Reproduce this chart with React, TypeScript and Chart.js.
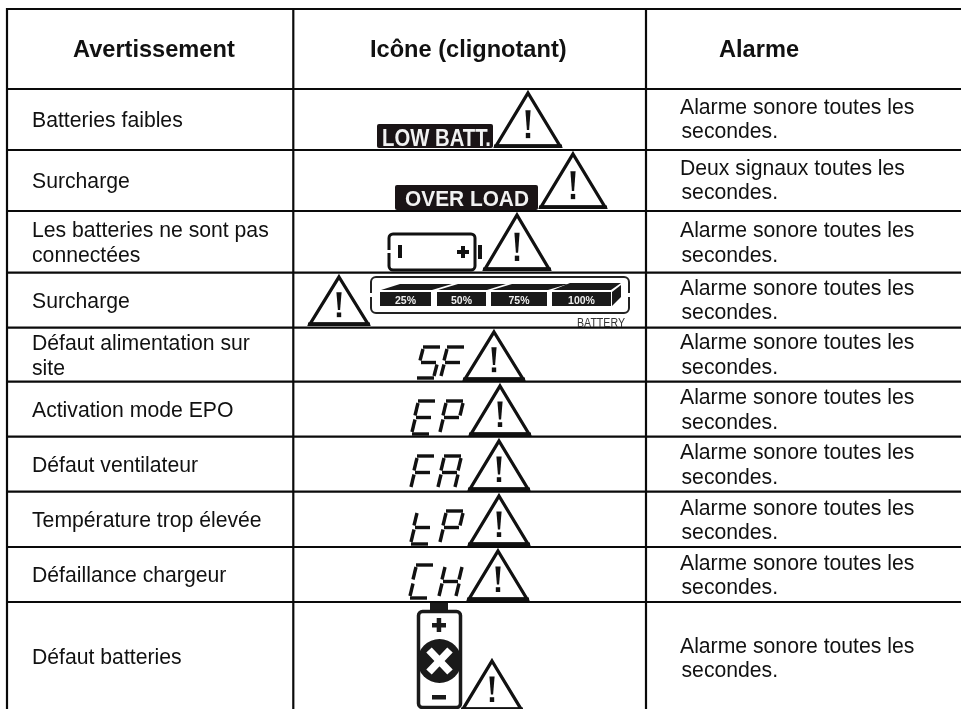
import React, { useEffect, useRef } from "react";
import { Chart, registerables } from "chart.js";

Chart.register(...registerables);

const WIDTH = 961;
const HEIGHT = 709;

const columnEdges = [7, 293.3, 646];
const rowEdges = [9, 89, 150, 211, 272.7, 327.7, 381.7, 436.7, 491.7, 547, 602];

const headers = ["Avertissement", "Icône (clignotant)", "Alarme"];
const headerX = [73, 370, 719];
const headerBaseline = 57;

const warnings = [
  ["Batteries faibles"],
  ["Surcharge"],
  ["Les batteries ne sont pas", "connectées"],
  ["Surcharge"],
  ["Défaut alimentation sur", "site"],
  ["Activation mode EPO"],
  ["Défaut ventilateur"],
  ["Température trop élevée"],
  ["Défaillance chargeur"],
  ["Défaut batteries"],
];
const warningBaselines = [[127], [188], [237, 262], [308], [350, 375], [417], [472], [527], [582], [664]];

const alarmSonore = ["Alarme sonore toutes les", "secondes."];
const deuxSignaux = ["Deux signaux toutes les", "secondes."];
const alarms = [alarmSonore, deuxSignaux, alarmSonore, alarmSonore, alarmSonore, alarmSonore, alarmSonore, alarmSonore, alarmSonore, alarmSonore];
const alarmBaselines = [[114, 138], [175, 199], [237, 262], [295, 319], [349, 374], [404, 429], [459, 484], [515, 539], [570, 594], [653, 677]];

// warning triangles: apex x, apex y, base y, half width
const triangleCx = [528, 573, 517, 339, 494, 500, 499, 499, 498, 492];
const triangleTop = [90, 151, 212, 274, 329, 383, 438, 493, 548, 658];
const triangleBase = [148, 209, 271, 326, 381, 436, 491, 546, 601, 711];
const triangleHalf = [34, 34, 34, 31, 31, 31, 31, 31, 31, 31];

// LCD codes
const lcdCodes = [["S", "F"], ["E", "P"], ["F", "A"], ["t", "P"], ["C", "H"]];
const lcdX = [[417, 441], [412, 440], [411, 438], [411, 440], [410, 439]];
const lcdTop = [347, 401, 456, 511, 565];
const lcdHeight = [31, 33, 33, 33, 33];

const segmentsByLetter: Record<string, string> = { S: "afgcd", F: "afeg", E: "afegd", P: "abfeg", A: "abcefg", t: "fegd", C: "afed", H: "bcefg" };

const meterLabels = ["25%", "50%", "75%", "100%"];
const meterLeft = [380, 437, 491, 552];
const meterRight = [431, 486, 547, 611];

type Px = (v: number) => number;

function triangle(c: CanvasRenderingContext2D, X: Px, Y: Px, cx: number, top: number, base: number, half: number) {
  const h = base - top;
  c.strokeStyle = "#111";
  c.lineWidth = 3.3;
  c.lineJoin = "miter";
  c.beginPath();
  c.moveTo(X(cx), Y(top + 3));
  c.lineTo(X(cx + half - 2), Y(base - 2));
  c.lineTo(X(cx - half + 2), Y(base - 2));
  c.closePath();
  c.stroke();
  c.fillStyle = "#111";
  c.fillRect(X(cx - half), Y(base - 3.5), half * 2, 3.5);
  c.beginPath();
  c.moveTo(X(cx - 2.6), Y(top + 0.35 * h));
  c.lineTo(X(cx + 2.6), Y(top + 0.35 * h));
  c.lineTo(X(cx + 1.1), Y(top + 0.69 * h));
  c.lineTo(X(cx - 1.1), Y(top + 0.69 * h));
  c.closePath();
  c.fill();
  c.fillRect(X(cx - 2.2), Y(top + 0.74 * h), 4.4, 0.09 * h);
}

function lcdLetter(c: CanvasRenderingContext2D, X: Px, Y: Px, letter: string, x: number, top: number, h: number) {
  const w = 17;
  const slant = 6;
  const g = 2;
  const yMid = top + h / 2;
  const bottom = top + h;
  const seg: Record<string, number[]> = {
    a: [x + slant, top, x + slant + w, top],
    b: [x + slant + w, top + g, x + slant / 2 + w, yMid - g],
    c: [x + slant / 2 + w, yMid + g, x + w, bottom - g],
    d: [x, bottom, x + w, bottom],
    e: [x + slant / 2, yMid + g, x, bottom - g],
    f: [x + slant, top + g, x + slant / 2, yMid - g],
    g: [x + slant / 2 + 1, yMid, x + slant / 2 + w - 1, yMid],
  };
  c.strokeStyle = "#111";
  c.lineWidth = 3.4;
  c.lineCap = "butt";
  for (const s of segmentsByLetter[letter]) {
    const p = seg[s];
    c.beginPath();
    c.moveTo(X(p[0]), Y(p[1]));
    c.lineTo(X(p[2]), Y(p[3]));
    c.stroke();
  }
}

function blackLabel(c: CanvasRenderingContext2D, X: Px, Y: Px, text: string, l: number, t: number, r: number, b: number, tx: number, ty: number, tw: number, size: number) {
  c.fillStyle = "#1a1416";
  c.beginPath();
  c.roundRect(X(l), Y(t), r - l, b - t, 2);
  c.fill();
  c.fillStyle = "#f2f2f2";
  c.font = `bold ${size}px "Liberation Sans Narrow", "Liberation Sans", sans-serif`;
  c.textAlign = "left";
  c.textBaseline = "alphabetic";
  c.fillText(text, X(tx), Y(ty), tw);
}

function poly(c: CanvasRenderingContext2D, X: Px, Y: Px, pts: number[]) {
  c.beginPath();
  for (let i = 0; i < pts.length; i += 2) {
    if (i === 0) c.moveTo(X(pts[i]), Y(pts[i + 1]));
    else c.lineTo(X(pts[i]), Y(pts[i + 1]));
  }
  c.closePath();
  c.fill();
}

function drawEmptyBattery(c: CanvasRenderingContext2D, X: Px, Y: Px) {
  c.strokeStyle = "#111";
  c.lineWidth = 3;
  c.beginPath();
  c.roundRect(X(389), Y(234), 86, 36, 4);
  c.stroke();
  c.fillStyle = "#fff";
  c.fillRect(X(386), Y(250), 6, 3);
  c.fillStyle = "#111";
  c.fillRect(X(478), Y(245), 4, 14);
  c.fillRect(X(398), Y(245), 4, 13);
  c.fillRect(X(457), Y(250), 12, 4);
  c.fillRect(X(461), Y(246), 4, 12);
}

function drawMeter(c: CanvasRenderingContext2D, X: Px, Y: Px) {
  c.strokeStyle = "#222";
  c.lineWidth = 2;
  c.beginPath();
  c.roundRect(X(371), Y(277), 258, 36, 5);
  c.stroke();
  c.fillStyle = "#fff";
  c.fillRect(X(368), Y(293), 5, 4);
  c.fillRect(X(627), Y(293), 5, 4);
  c.fillStyle = "#1a1a1a";
  poly(c, X, Y, [381, 290, 400, 284, 452, 284, 432, 290]);
  poly(c, X, Y, [438, 290, 458, 284, 506, 284, 487, 290]);
  poly(c, X, Y, [492, 290, 512, 284, 568, 284, 548, 290]);
  poly(c, X, Y, [553, 290, 570, 283, 621, 283, 611, 290]);
  poly(c, X, Y, [612, 292, 621, 285, 621, 297, 612, 306]);
  meterLabels.forEach((label, i) => {
    c.fillStyle = "#1a1a1a";
    c.fillRect(X(meterLeft[i]), Y(292), meterRight[i] - meterLeft[i], 14);
    c.fillStyle = "#eee";
    c.font = 'bold 10.5px "Liberation Sans", sans-serif';
    c.textAlign = "center";
    c.textBaseline = "alphabetic";
    c.fillText(label, X((meterLeft[i] + meterRight[i]) / 2), Y(303.5));
  });
  c.fillStyle = "#333";
  c.font = '12.5px "Liberation Sans Narrow", "Liberation Sans", sans-serif';
  c.textAlign = "left";
  c.fillText("BATTERY", X(577), Y(327), 48);
}

function drawFaultBattery(c: CanvasRenderingContext2D, X: Px, Y: Px) {
  c.fillStyle = "#1a1a1a";
  c.fillRect(X(430), Y(603), 18, 7);
  c.strokeStyle = "#1a1a1a";
  c.lineWidth = 3.5;
  c.beginPath();
  c.roundRect(X(418.5), Y(611.5), 42, 96, 4);
  c.stroke();
  c.fillRect(X(432), Y(623), 14, 4.5);
  c.fillRect(X(436.7), Y(618), 4.5, 14);
  c.fillRect(X(432), Y(695), 14, 4.5);
  c.beginPath();
  c.arc(X(439.5), Y(661), 22, 0, Math.PI * 2);
  c.fill();
  c.strokeStyle = "#fff";
  c.lineWidth = 7.5;
  c.beginPath();
  c.moveTo(X(429), Y(650));
  c.lineTo(X(450), Y(672));
  c.moveTo(X(450), Y(650));
  c.lineTo(X(429), Y(672));
  c.stroke();
}

const tablePlugin = {
  id: "tableText",
  afterDatasetsDraw(chart: any) {
    const c: CanvasRenderingContext2D = chart.ctx;
    const X: Px = (v) => chart.scales.x.getPixelForValue(v);
    const Y: Px = (v) => chart.scales.y.getPixelForValue(v);
    c.save();
    c.textBaseline = "alphabetic";
    c.textAlign = "left";
    c.fillStyle = "#111";
    c.font = 'bold 23.6px "Liberation Sans", Arial, sans-serif';
    headers.forEach((h, i) => c.fillText(h, X(headerX[i]), Y(headerBaseline)));
    c.font = '21.2px "Liberation Sans", Arial, sans-serif';
    warnings.forEach((lines, r) => lines.forEach((t, i) => c.fillText(t, X(32), Y(warningBaselines[r][i]))));
    alarms.forEach((lines, r) => lines.forEach((t, i) => c.fillText(t, X(i === 0 ? 680 : 681.5), Y(alarmBaselines[r][i]))));

    blackLabel(c, X, Y, "LOW BATT.", 377, 124, 493, 148, 382, 146, 109, 24);
    blackLabel(c, X, Y, "OVER LOAD", 395, 185, 538, 210, 405, 206, 124, 22);
    drawEmptyBattery(c, X, Y);
    drawMeter(c, X, Y);
    lcdCodes.forEach((code, i) => code.forEach((l, j) => lcdLetter(c, X, Y, l, lcdX[i][j], lcdTop[i], lcdHeight[i])));
    drawFaultBattery(c, X, Y);
    triangleCx.forEach((cx, i) => triangle(c, X, Y, cx, triangleTop[i], triangleBase[i], triangleHalf[i]));
    c.restore();
  },
};

export default function App() {
  const ref = useRef<HTMLCanvasElement | null>(null);
  useEffect(() => {
    document.body.style.margin = "0";
    document.body.style.background = "#fff";
    const bottom = HEIGHT;
    const rule = (data: { x: number; y: number }[]) => ({
      type: "line" as const,
      data,
      borderColor: "#0a0a0a",
      borderWidth: 2.2,
      pointRadius: 0,
      fill: false,
      tension: 0,
    });
    const horizontals = rowEdges.map((y) => rule([{ x: columnEdges[0] - 1, y }, { x: WIDTH, y }]));
    const verticals = columnEdges.map((x) => rule([{ x, y: rowEdges[0] - 1 }, { x, y: bottom }]));
    const chart = new Chart(ref.current as HTMLCanvasElement, {
      type: "line",
      data: { datasets: [...horizontals, ...verticals] },
      options: {
        animation: false,
        responsive: false,
        layout: { padding: 0 },
        plugins: { legend: { display: false }, tooltip: { enabled: false } },
        scales: {
          x: { type: "linear", min: 0, max: WIDTH, display: false },
          y: { type: "linear", min: 0, max: HEIGHT, reverse: true, display: false },
        },
      },
      plugins: [tablePlugin],
    } as any);
    return () => chart.destroy();
  }, []);
  return <canvas ref={ref} width={WIDTH} height={HEIGHT} style={{ display: "block" }} />;
}
